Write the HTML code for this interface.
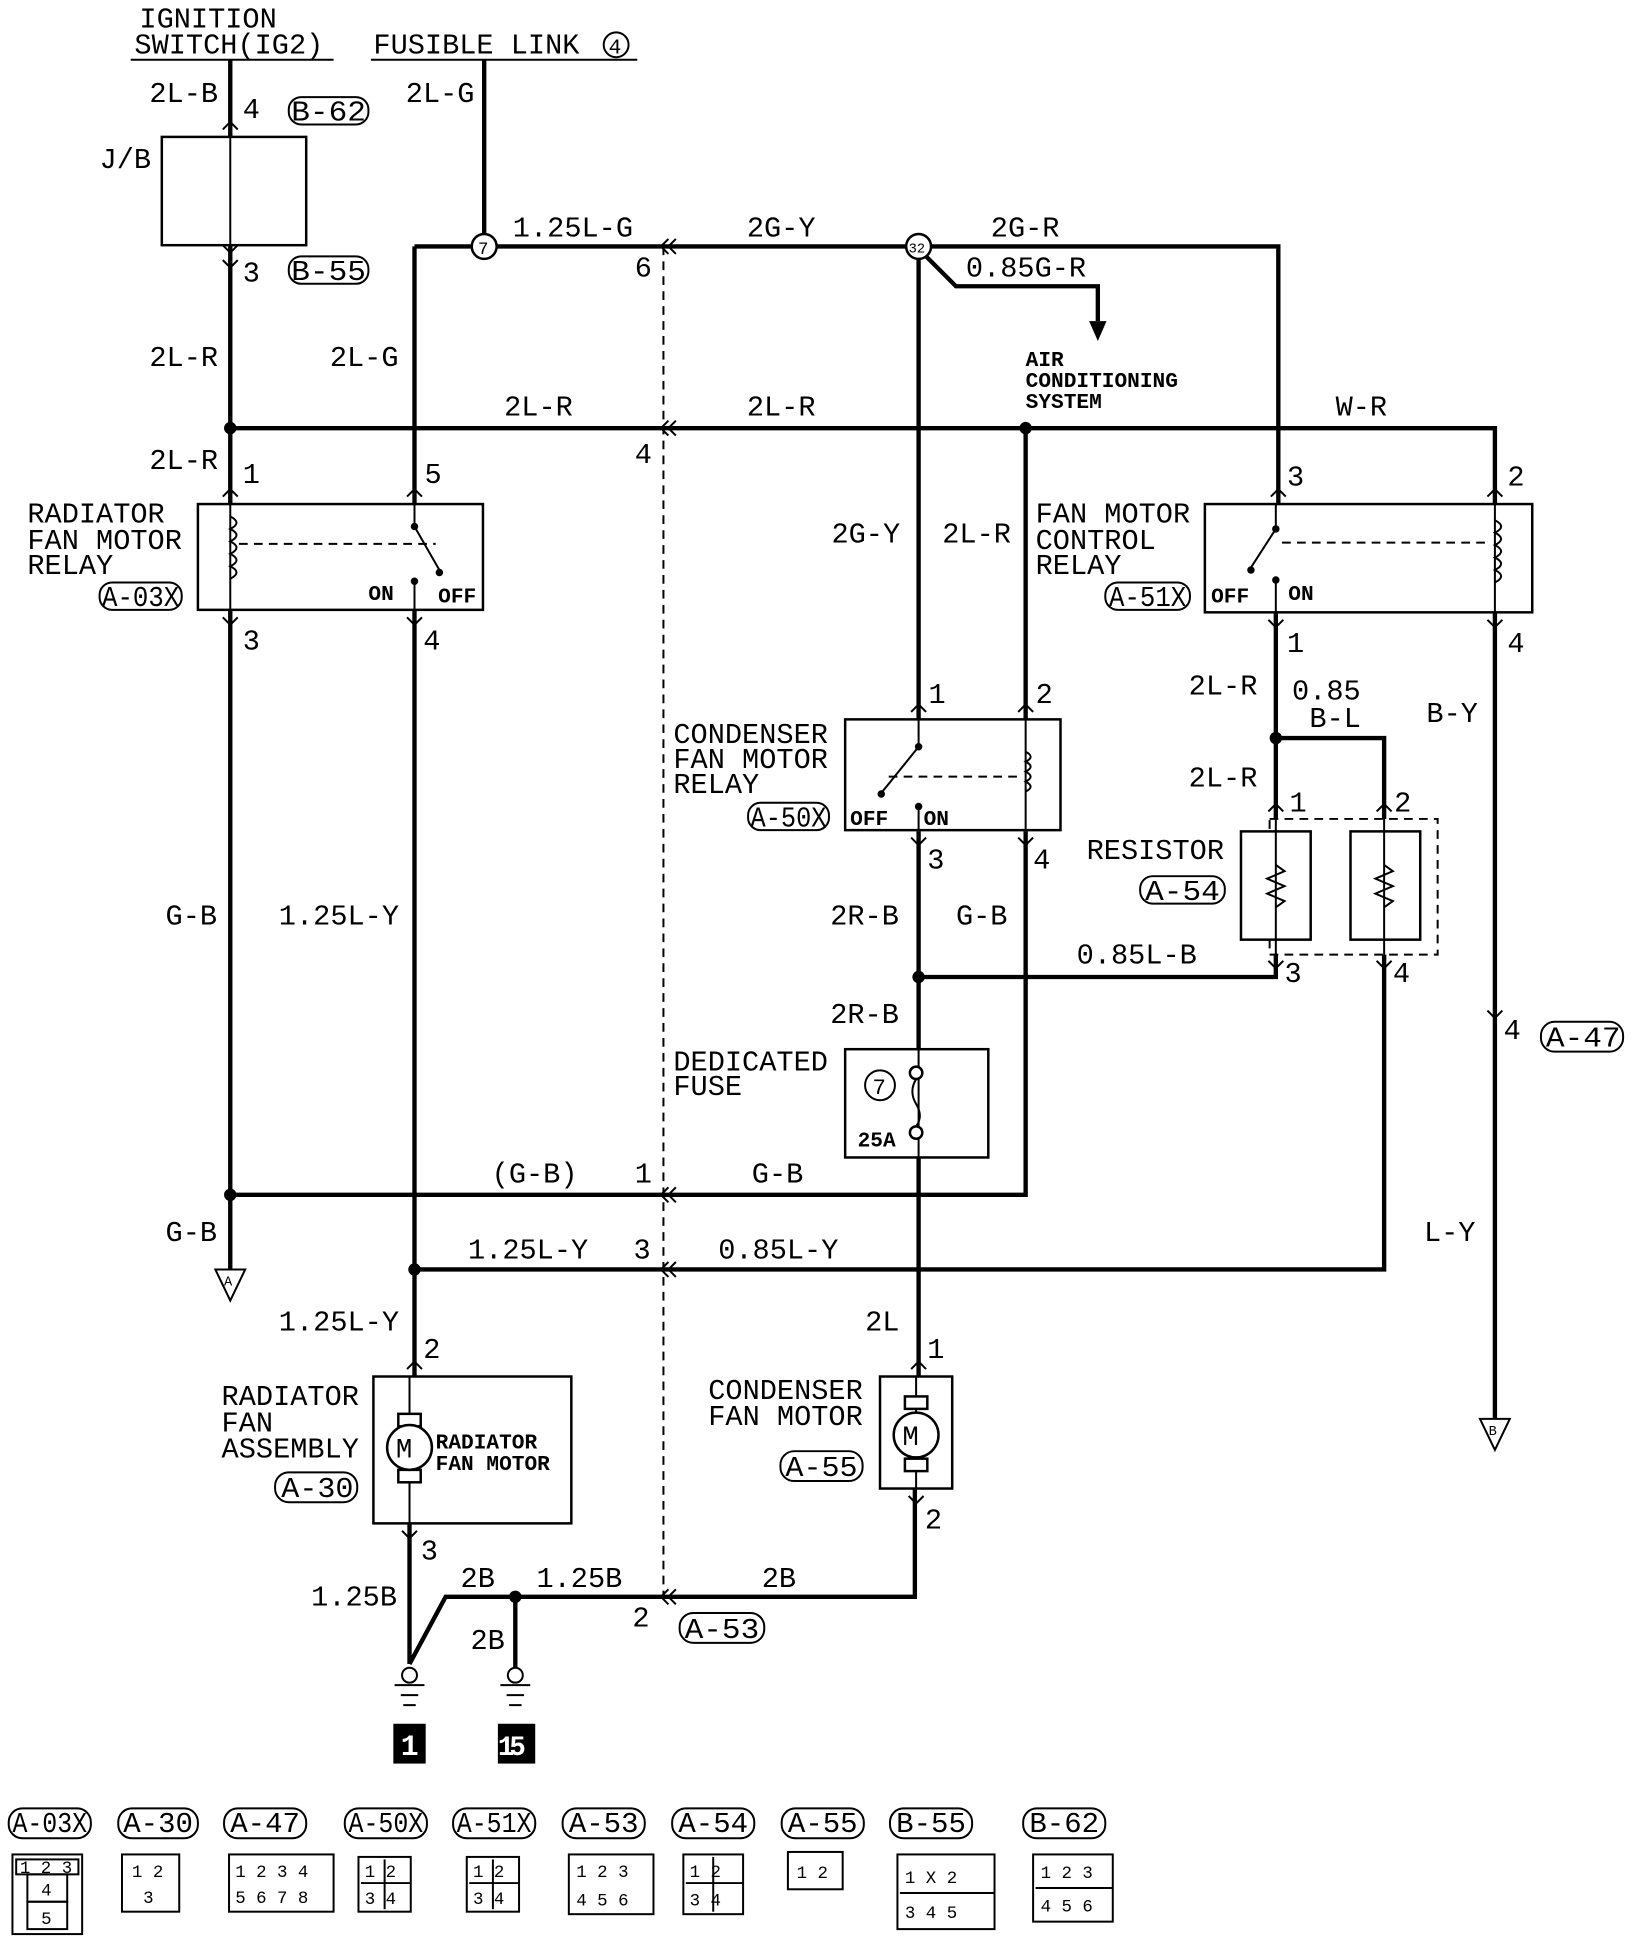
<!DOCTYPE html>
<html><head><meta charset="utf-8"><style>
html,body{margin:0;padding:0;background:#fff;}
svg{display:block;}
text{font-family:"Liberation Mono",monospace;fill:#000;}
.t{font-size:23px;}
.s{font-size:17px;font-weight:bold;}
.w{stroke:#000;stroke-width:3.5;fill:none;}
.n{stroke:#000;stroke-width:1.6;fill:none;}
.d{stroke:#000;stroke-width:1.6;fill:none;stroke-dasharray:7,5;}
.b{stroke:#000;stroke-width:2;fill:#fff;}
</style></head><body>
<svg width="1648" height="1954" viewBox="0 0 1324 1570" preserveAspectRatio="none" xmlns="http://www.w3.org/2000/svg">
<text class="t" x="112" y="22">IGNITION</text>
<text class="t" x="108" y="43">SWITCH(IG2)</text>
<line x1="105" y1="48" x2="268" y2="48" class="n" stroke-width="2.5"/>
<text class="t" x="300" y="43">FUSIBLE LINK</text>
<circle cx="495" cy="36" r="10" class="n"/><text x="489" y="43" style="font-size:17px">4</text>
<line x1="298" y1="48" x2="512" y2="48" class="n" stroke-width="2.5"/>

<g class="w">
<path d="M185 48 V110 M185 197 V1020"/>
<path d="M389 48 V188"/>
<path d="M333 198 H379 M399 198 H728 M748 198 H1027 V405"/>
<path d="M333 198 V1106"/>
<path d="M185 344 H1201 V405 M1201 490 V1140"/>
<path d="M738 208 V578 M738 668 V843 M738 930 V1106"/>
<path d="M744 206 L768 230 H882 V258"/>
<path d="M824 344 V578 M824 668 V960 H185"/>
<path d="M1025 492 V658 M1025 593 H1112 V658"/>
<path d="M1025 767 V785 H738"/>
<path d="M1112 767 V1020 H333"/>
<path d="M329 1224 V1337 M329 1337 L358 1283 H735 V1196"/>
<path d="M414 1283 V1340"/>
</g>
<polygon points="875,258 889,258 882,274" fill="#000"/>
<circle cx="185" cy="344" r="5"/><circle cx="824" cy="344" r="5"/>
<circle cx="1025" cy="593" r="5"/><circle cx="738" cy="785" r="5"/>
<circle cx="185" cy="960" r="5"/><circle cx="333" cy="1020" r="5"/>
<circle cx="414" cy="1283" r="5"/>
<circle cx="389" cy="198" r="10" class="b"/><text x="384" y="204" style="font-size:14px">7</text>
<circle cx="738" cy="198" r="10" class="b"/><text x="730" y="203" style="font-size:11px">32</text>
<line x1="533" y1="198" x2="533" y2="1285" class="d"/>
<g class="n"><path d="M537 192 L531 198 L537 204 M543 192 L537 198 L543 204"/>
<path d="M537 338 L531 344 L537 350 M543 338 L537 344 L543 350"/>
<path d="M537 954 L531 960 L537 966 M543 954 L537 960 L543 966"/>
<path d="M537 1014 L531 1020 L537 1026 M543 1014 L537 1020 L543 1026"/>
<path d="M537 1277 L531 1283 L537 1289 M543 1277 L537 1283 L543 1289"/></g>

<!-- pin chevrons -->
<g class="n">
<path d="M179 104 L185 98 L191 104 M179 116 L185 110 L191 116 M179 197 L185 203 L191 197 M179 209 L185 215 L191 209"/>
<path d="M179 399 L185 393 L191 399 M327 399 L333 393 L339 399 M179 496 L185 502 L191 496 M327 496 L333 502 L339 496"/>
<path d="M1021 399 L1027 393 L1033 399 M1195 399 L1201 393 L1207 399 M1019 498 L1025 504 L1031 498 M1195 498 L1201 504 L1207 498"/>
<path d="M732 572 L738 566 L744 572 M818 572 L824 566 L830 572 M732 673 L738 679 L744 673 M818 673 L824 679 L830 673"/>
<path d="M1019 652 L1025 646 L1031 652 M1106 652 L1112 646 L1118 652 M1019 772 L1025 778 L1031 772 M1106 772 L1112 778 L1118 772"/>
<path d="M1195 812 L1201 818 L1207 812"/>
<path d="M327 1100 L333 1094 L339 1100 M732 1100 L738 1094 L744 1100 M323 1230 L329 1236 L335 1230 M730 1202 L736 1208 L742 1202"/>
</g>

<rect x="130" y="110" width="116" height="87" class="b"/>
<line x1="185" y1="110" x2="185" y2="197" class="n"/>
<text class="t" x="80" y="135">J/B</text>
<text class="t" x="120" y="82">2L-B</text><text class="t" x="195" y="95">4</text>
<rect x="232" y="78" width="64" height="22" rx="10" class="n"/><text class="t" x="234" y="97" textLength="60" lengthAdjust="spacingAndGlyphs">B-62</text>
<text class="t" x="195" y="226">3</text>
<rect x="232" y="206" width="64" height="22" rx="10" class="n"/><text class="t" x="234" y="225" textLength="60" lengthAdjust="spacingAndGlyphs">B-55</text>
<text class="t" x="326" y="82">2L-G</text>
<text class="t" x="412" y="190">1.25L-G</text>
<text class="t" x="600" y="190">2G-Y</text>
<text class="t" x="796" y="190">2G-R</text>
<text class="t" x="776" y="222">0.85G-R</text>
<text class="t" x="510" y="222">6</text>
<text class="t" x="120" y="294">2L-R</text>
<text class="t" x="265" y="294">2L-G</text>
<text class="t" x="405" y="334">2L-R</text>
<text class="t" x="600" y="334">2L-R</text>
<text class="t" x="1073" y="334">W-R</text>
<text class="t" x="510" y="372">4</text>
<text class="s" x="824" y="294">AIR</text>
<text class="s" x="824" y="311">CONDITIONING</text>
<text class="s" x="824" y="328">SYSTEM</text>
<text class="t" x="120" y="377">2L-R</text>

<rect x="159" y="405" width="229" height="85" class="b"/>
<line x1="185" y1="405" x2="185" y2="490" class="n"/>
<path d="M185 415 q10 5 0 10 q10 5 0 10 q10 5 0 10 q10 5 0 10 q10 5 0 10" class="n" stroke-width="2"/>
<line x1="192" y1="437" x2="350" y2="437" class="d" stroke-width="2.5"/>
<line x1="333" y1="405" x2="333" y2="422" class="n"/><circle cx="333" cy="423" r="3"/>
<line x1="333" y1="423" x2="353" y2="458" class="n" stroke-width="2"/><circle cx="353" cy="460" r="3"/>
<circle cx="333" cy="467" r="3"/><line x1="333" y1="467" x2="333" y2="490" class="n"/>
<text class="s" x="296" y="482">ON</text><text class="s" x="352" y="484">OFF</text>
<text class="t" x="22" y="420">RADIATOR</text>
<text class="t" x="22" y="441">FAN MOTOR</text>
<text class="t" x="22" y="461">RELAY</text>
<rect x="80" y="468" width="66" height="22" rx="10" class="n"/><text class="t" x="82" y="487" textLength="62" lengthAdjust="spacingAndGlyphs">A-03X</text>
<text class="t" x="195" y="388">1</text><text class="t" x="341" y="388">5</text>
<text class="t" x="195" y="522">3</text><text class="t" x="340" y="522">4</text>

<rect x="968" y="405" width="263" height="87" class="b"/>
<line x1="1025" y1="405" x2="1025" y2="425" class="n"/><circle cx="1025" cy="425" r="3"/>
<line x1="1025" y1="425" x2="1005" y2="456" class="n" stroke-width="2"/><circle cx="1005" cy="458" r="3"/>
<circle cx="1025" cy="466" r="3"/><line x1="1025" y1="466" x2="1025" y2="492" class="n"/>
<line x1="1030" y1="436" x2="1195" y2="436" class="d"/>
<line x1="1201" y1="405" x2="1201" y2="492" class="n"/>
<path d="M1201 418 q10 5 0 10 q10 5 0 10 q10 5 0 10 q10 5 0 10 q10 5 0 10" class="n" stroke-width="2"/>
<text class="s" x="973" y="484">OFF</text><text class="s" x="1035" y="482">ON</text>
<text class="t" x="832" y="420">FAN MOTOR</text>
<text class="t" x="832" y="441">CONTROL</text>
<text class="t" x="832" y="461">RELAY</text>
<rect x="888" y="468" width="68" height="22" rx="10" class="n"/><text class="t" x="891" y="487" textLength="62" lengthAdjust="spacingAndGlyphs">A-51X</text>
<text class="t" x="1034" y="390">3</text><text class="t" x="1211" y="390">2</text>
<text class="t" x="1034" y="524">1</text><text class="t" x="1211" y="524">4</text>

<text class="t" x="668" y="436">2G-Y</text>
<text class="t" x="757" y="436">2L-R</text>
<text class="t" x="746" y="565">1</text><text class="t" x="832" y="565">2</text>

<rect x="679" y="578" width="173" height="89" class="b"/>
<line x1="738" y1="578" x2="738" y2="600" class="n"/><circle cx="738" cy="600" r="3"/>
<line x1="738" y1="600" x2="709" y2="636" class="n" stroke-width="2"/><circle cx="708" cy="638" r="3"/>
<circle cx="738" cy="648" r="3"/><line x1="738" y1="648" x2="738" y2="667" class="n"/>
<line x1="714" y1="624" x2="818" y2="624" class="d"/>
<line x1="824" y1="578" x2="824" y2="667" class="n"/>
<path d="M824 604 q8 4 0 8 q8 4 0 8 q8 4 0 8 q8 4 0 8" class="n" stroke-width="2"/>
<text class="s" x="683" y="663">OFF</text><text class="s" x="742" y="663">ON</text>
<text class="t" x="541" y="597">CONDENSER</text>
<text class="t" x="541" y="617">FAN MOTOR</text>
<text class="t" x="541" y="637">RELAY</text>
<rect x="601" y="645" width="65" height="22" rx="10" class="n"/><text class="t" x="603" y="664" textLength="61" lengthAdjust="spacingAndGlyphs">A-50X</text>
<text class="t" x="745" y="698">3</text><text class="t" x="830" y="698">4</text>

<text class="t" x="955" y="558">2L-R</text>
<text class="t" x="1038" y="562">0.85</text>
<text class="t" x="1052" y="584">B-L</text>
<text class="t" x="1146" y="580">B-Y</text>
<text class="t" x="955" y="632">2L-R</text>
<text class="t" x="1036" y="652">1</text><text class="t" x="1120" y="652">2</text>

<rect x="1020" y="658" width="135" height="109" class="d"/>
<rect x="997" y="668" width="56" height="87" class="b"/>
<rect x="1085" y="668" width="56" height="87" class="b"/>
<line x1="1025" y1="658" x2="1025" y2="767" class="n"/>
<line x1="1112" y1="658" x2="1112" y2="767" class="n"/>
<path d="M1025 695 l7 5 -14 6 14 6 -14 6 14 6 -7 5" class="n" stroke-width="2" fill="#fff"/>
<path d="M1112 695 l7 5 -14 6 14 6 -14 6 14 6 -7 5" class="n" stroke-width="2" fill="#fff"/>
<text class="t" x="873" y="690">RESISTOR</text>
<rect x="916" y="704" width="68" height="22" rx="10" class="n"/><text class="t" x="920" y="723" textLength="60" lengthAdjust="spacingAndGlyphs">A-54</text>
<text class="t" x="1032" y="789">3</text><text class="t" x="1119" y="789">4</text>
<text class="t" x="865" y="774">0.85L-B</text>

<text class="t" x="133" y="743">G-B</text>
<text class="t" x="224" y="743">1.25L-Y</text>
<text class="t" x="667" y="743">2R-B</text>
<text class="t" x="768" y="743">G-B</text>
<text class="t" x="667" y="822">2R-B</text>

<rect x="679" y="843" width="115" height="87" class="b"/>
<line x1="738" y1="843" x2="738" y2="930" class="n"/>
<circle cx="736" cy="862" r="5" class="b"/><circle cx="736" cy="910" r="5" class="b"/>
<path d="M736 867 q-6 10 0 20 q6 10 0 18" class="n" fill="none"/>
<circle cx="707" cy="872" r="12" class="n"/><text x="701" y="879" style="font-size:18px">7</text>
<text class="s" x="689" y="921">25A</text>
<text class="t" x="541" y="860">DEDICATED</text>
<text class="t" x="541" y="880">FUSE</text>

<text class="t" x="1208" y="835">4</text>
<rect x="1238" y="821" width="66" height="24" rx="11" class="n"/><text class="t" x="1242" y="841" textLength="60" lengthAdjust="spacingAndGlyphs">A-47</text>

<text class="t" x="395" y="950">(G-B)</text><text class="t" x="510" y="950">1</text>
<text class="t" x="604" y="950">G-B</text>
<text class="t" x="133" y="997">G-B</text>
<text class="t" x="1144" y="997">L-Y</text>
<text class="t" x="376" y="1011">1.25L-Y</text><text class="t" x="509" y="1011">3</text>
<text class="t" x="577" y="1011">0.85L-Y</text>
<polygon points="173,1020 197,1020 185,1045" class="n"/><text x="180" y="1033" style="font-size:11px">A</text>
<polygon points="1189,1140 1213,1140 1201,1165" class="n"/><text x="1196" y="1153" style="font-size:11px">B</text>

<text class="t" x="224" y="1069">1.25L-Y</text>
<text class="t" x="695" y="1069">2L</text>
<text class="t" x="340" y="1091">2</text><text class="t" x="745" y="1091">1</text>

<rect x="300" y="1106" width="159" height="118" class="b"/>
<line x1="329" y1="1106" x2="329" y2="1224" class="n"/>
<rect x="320" y="1136" width="18" height="10" class="b"/><rect x="320" y="1181" width="18" height="10" class="b"/>
<circle cx="329" cy="1163" r="18" class="b"/><text x="318" y="1171" style="font-size:22px">M</text>
<text class="s" x="350" y="1164">RADIATOR</text>
<text class="s" x="350" y="1181">FAN MOTOR</text>
<text class="t" x="178" y="1129">RADIATOR</text>
<text class="t" x="178" y="1150">FAN</text>
<text class="t" x="178" y="1171">ASSEMBLY</text>
<rect x="221" y="1183" width="66" height="24" rx="11" class="n"/><text class="t" x="226" y="1203" textLength="58" lengthAdjust="spacingAndGlyphs">A-30</text>
<text class="t" x="338" y="1253">3</text>

<rect x="707" y="1106" width="58" height="90" class="b"/>
<line x1="736" y1="1106" x2="736" y2="1196" class="n"/>
<rect x="727" y="1122" width="18" height="10" class="b"/><rect x="727" y="1172" width="18" height="10" class="b"/>
<circle cx="736" cy="1153" r="18" class="b"/><text x="725" y="1161" style="font-size:22px">M</text>
<text class="t" x="569" y="1124">CONDENSER</text>
<text class="t" x="569" y="1145">FAN MOTOR</text>
<rect x="627" y="1166" width="66" height="24" rx="11" class="n"/><text class="t" x="631" y="1186" textLength="58" lengthAdjust="spacingAndGlyphs">A-55</text>
<text class="t" x="743" y="1228">2</text>

<text class="t" x="250" y="1290">1.25B</text>
<text class="t" x="370" y="1275">2B</text>
<text class="t" x="431" y="1275">1.25B</text>
<text class="t" x="612" y="1275">2B</text>
<text class="t" x="378" y="1325">2B</text>
<text class="t" x="508" y="1307">2</text>
<rect x="546" y="1296" width="68" height="24" rx="11" class="n"/><text class="t" x="550" y="1316" textLength="60" lengthAdjust="spacingAndGlyphs">A-53</text>

<g class="n" stroke-width="2.5">
<circle cx="329" cy="1346" r="6" fill="#fff"/><path d="M317 1354 H341 M322 1362 H336 M324 1370 H334"/>
<circle cx="414" cy="1346" r="6" fill="#fff"/><path d="M402 1354 H426 M407 1362 H421 M409 1370 H419"/>
</g>
<rect x="316" y="1385" width="26" height="32" fill="#000"/><text x="322" y="1410" style="font-size:24px;fill:#fff;font-weight:bold">1</text>
<rect x="400" y="1385" width="30" height="32" fill="#000"/><text x="400" y="1410" style="font-size:22px;fill:#fff;font-weight:bold;letter-spacing:-4px">15</text>

<g class="n" stroke-width="2">
<rect x="7" y="1453" width="66" height="24" rx="11"/><rect x="95" y="1453" width="64" height="24" rx="11"/>
<rect x="180" y="1453" width="66" height="24" rx="11"/><rect x="277" y="1453" width="66" height="24" rx="11"/>
<rect x="364" y="1453" width="66" height="24" rx="11"/><rect x="452" y="1453" width="66" height="24" rx="11"/>
<rect x="540" y="1453" width="66" height="24" rx="11"/><rect x="628" y="1453" width="66" height="24" rx="11"/>
<rect x="715" y="1453" width="66" height="24" rx="11"/><rect x="822" y="1453" width="66" height="24" rx="11"/>
<rect x="10" y="1490" width="56" height="64"/><rect x="13" y="1494" width="50" height="12"/>
<rect x="22" y="1506" width="32" height="22"/><rect x="22" y="1528" width="32" height="22"/>
<rect x="98" y="1490" width="46" height="46"/>
<rect x="184" y="1490" width="84" height="46"/>
<rect x="288" y="1492" width="42" height="44"/><line x1="290" y1="1513" x2="330" y2="1513"/><line x1="309" y1="1494" x2="309" y2="1534"/>
<rect x="375" y="1492" width="42" height="44"/><line x1="377" y1="1513" x2="417" y2="1513"/><line x1="396" y1="1494" x2="396" y2="1534"/>
<rect x="457" y="1490" width="68" height="48"/>
<rect x="549" y="1490" width="48" height="48"/><line x1="551" y1="1513" x2="597" y2="1513"/><line x1="573" y1="1492" x2="573" y2="1536"/>
<rect x="633" y="1488" width="44" height="30"/>
<rect x="721" y="1490" width="78" height="60"/><line x1="723" y1="1521" x2="799" y2="1521"/>
<rect x="830" y="1490" width="64" height="54"/><line x1="832" y1="1517" x2="894" y2="1517"/>
</g>
<g class="t">
<text x="10" y="1472" textLength="60" lengthAdjust="spacingAndGlyphs">A-03X</text><text x="99" y="1472" textLength="56" lengthAdjust="spacingAndGlyphs">A-30</text><text x="185" y="1472" textLength="56" lengthAdjust="spacingAndGlyphs">A-47</text>
<text x="280" y="1472" textLength="60" lengthAdjust="spacingAndGlyphs">A-50X</text><text x="367" y="1472" textLength="60" lengthAdjust="spacingAndGlyphs">A-51X</text><text x="457" y="1472" textLength="56" lengthAdjust="spacingAndGlyphs">A-53</text>
<text x="545" y="1472" textLength="56" lengthAdjust="spacingAndGlyphs">A-54</text><text x="633" y="1472" textLength="56" lengthAdjust="spacingAndGlyphs">A-55</text><text x="720" y="1472" textLength="56" lengthAdjust="spacingAndGlyphs">B-55</text><text x="827" y="1472" textLength="56" lengthAdjust="spacingAndGlyphs">B-62</text>
</g>
<g style="font-size:14px;font-family:'Liberation Mono',monospace">
<text x="16" y="1505">1 2 3</text><text x="33" y="1523">4</text><text x="33" y="1546">5</text>
<text x="106" y="1508">1 2</text><text x="115" y="1529">3</text>
<text x="189" y="1508">1 2 3 4</text><text x="189" y="1529">5 6 7 8</text>
<text x="293" y="1508">1  2</text><text x="293" y="1530">3  4</text>
<text x="380" y="1508">1  2</text><text x="380" y="1530">3  4</text>
<text x="463" y="1508">1 2 3</text><text x="463" y="1531">4 5 6</text>
<text x="554" y="1508">1  2</text><text x="554" y="1531">3  4</text>
<text x="640" y="1509">1 2</text>
<text x="727" y="1513">1  X  2</text><text x="727" y="1541">3  4  5</text>
<text x="836" y="1509">1 2 3</text><text x="836" y="1536">4 5 6</text>
</g>
</svg>
</body></html>
